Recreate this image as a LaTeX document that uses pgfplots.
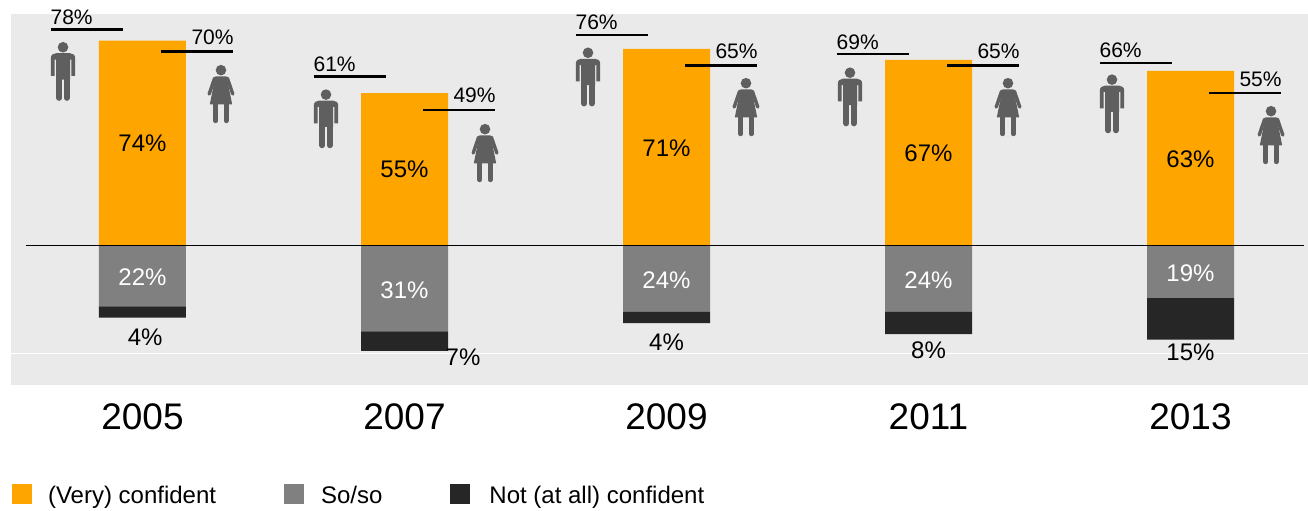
\documentclass[border=0pt]{standalone}
\usepackage{pgfplots}
\pgfplotsset{compat=1.18}
\usepackage{fontspec}
\setmainfont{Liberation Sans}
\definecolor{cOr}{HTML}{FFA500}
\definecolor{cGr}{HTML}{808080}
\definecolor{cBk}{HTML}{262626}
\definecolor{cBg}{HTML}{EAEAEA}
\definecolor{cIc}{HTML}{5F5F5F}
% 1 px of the reference = 0.5pt
\pgfdeclareplotmark{man}{%
  \pgfsetfillcolor{cIc}\pgfsetstrokecolor{cIc}%
  \pgfsetroundcap
  \pgfpathcircle{\pgfqpoint{0pt}{12.15pt}}{2.65pt}\pgfusepathqfill
  \pgfpathmoveto{\pgfqpoint{-6.1pt}{6.5pt}}%
  \pgfpathcurveto{\pgfqpoint{-6.1pt}{8.3pt}}{\pgfqpoint{-5pt}{9.15pt}}{\pgfqpoint{-3.5pt}{9.15pt}}%
  \pgfpathlineto{\pgfqpoint{3.5pt}{9.15pt}}%
  \pgfpathcurveto{\pgfqpoint{5pt}{9.15pt}}{\pgfqpoint{6.1pt}{8.3pt}}{\pgfqpoint{6.1pt}{6.5pt}}%
  \pgfpathlineto{\pgfqpoint{6.1pt}{-2.2pt}}%
  \pgfpathlineto{\pgfqpoint{4.2pt}{-2.2pt}}%
  \pgfpathlineto{\pgfqpoint{4.2pt}{6pt}}%
  \pgfpathlineto{\pgfqpoint{3.5pt}{6pt}}%
  \pgfpathlineto{\pgfqpoint{3.5pt}{-4pt}}%
  \pgfpathlineto{\pgfqpoint{-3.5pt}{-4pt}}%
  \pgfpathlineto{\pgfqpoint{-3.5pt}{6pt}}%
  \pgfpathlineto{\pgfqpoint{-4.2pt}{6pt}}%
  \pgfpathlineto{\pgfqpoint{-4.2pt}{-2.2pt}}%
  \pgfpathlineto{\pgfqpoint{-6.1pt}{-2.2pt}}%
  \pgfpathclose\pgfusepathqfill
  \pgfsetlinewidth{2.9pt}%
  \pgfpathmoveto{\pgfqpoint{-1.9pt}{-3pt}}\pgfpathlineto{\pgfqpoint{-1.9pt}{-13.2pt}}\pgfusepathqstroke
  \pgfpathmoveto{\pgfqpoint{1.9pt}{-3pt}}\pgfpathlineto{\pgfqpoint{1.9pt}{-13.2pt}}\pgfusepathqstroke
}
\pgfdeclareplotmark{woman}{%
  \pgfsetfillcolor{cIc}\pgfsetstrokecolor{cIc}%
  \pgfsetroundcap
  \pgfpathcircle{\pgfqpoint{0pt}{11.9pt}}{2.65pt}\pgfusepathqfill
  \pgfpathmoveto{\pgfqpoint{-2.8pt}{8.8pt}}%
  \pgfpathlineto{\pgfqpoint{2.8pt}{8.8pt}}%
  \pgfpathlineto{\pgfqpoint{5.6pt}{-5.2pt}}%
  \pgfpathlineto{\pgfqpoint{-5.6pt}{-5.2pt}}%
  \pgfpathclose\pgfusepathqfill
  \pgfsetlinewidth{1.7pt}%
  \pgfpathmoveto{\pgfqpoint{-3.2pt}{7.9pt}}\pgfpathlineto{\pgfqpoint{-5.9pt}{0pt}}\pgfusepathqstroke
  \pgfpathmoveto{\pgfqpoint{3.2pt}{7.9pt}}\pgfpathlineto{\pgfqpoint{5.9pt}{0pt}}\pgfusepathqstroke
  \pgfsetlinewidth{2.4pt}%
  \pgfpathmoveto{\pgfqpoint{-2.6pt}{-5pt}}\pgfpathlineto{\pgfqpoint{-2.6pt}{-13.4pt}}\pgfusepathqstroke
  \pgfpathmoveto{\pgfqpoint{2.6pt}{-5pt}}\pgfpathlineto{\pgfqpoint{2.6pt}{-13.4pt}}\pgfusepathqstroke
}
\pgfplotsset{
  lbl/.style={forget plot, only marks, mark=none, point meta=explicit symbolic,
    nodes near coords, every node near coord/.append style={anchor=center, inner sep=0pt, text=#1,
      font=\fontsize{12}{14}\selectfont}},
  lbl/.default=black,
  seg/.style={forget plot, sharp plot, black, line width=1.1pt, unbounded coords=jump},
  barstyle/.style={ybar, bar width=43.5pt, bar shift=0pt, draw=none, fill=#1},
}
\begin{document}
\begin{tikzpicture}
\path[use as bounding box] (-5.5pt,-62.5pt) rectangle (648.5pt,192.5pt);
\begin{axis}[
  scale only axis, width=648.5pt, height=185.5pt,
  xmin=-0.5019, xmax=4.4485, ymin=-50.36, ymax=83.57,
  clip=false,
  axis line style={draw=none},
  axis background/.style={fill=cBg},
  major tick length=0pt,
  xtick={0,1,2,3,4},
  xticklabels={2005,2007,2009,2011,2013},
  xticklabel style={font=\fontsize{18.5}{22}\selectfont, yshift=-6pt},
  ytick={-38.85}, yticklabels={}, ymajorgrids,
  grid style={white, line width=0.5pt},
  reverse stacked plots=false,
  legend columns=-1,
  legend style={at={(axis description cs:0.0008,-0.3004)}, anchor=west, draw=none, fill=none, inner sep=0pt, outer sep=0pt,
    font=\fontsize{12}{14}\selectfont,
    /tikz/every even column/.append style={column sep=32pt},
    /tikz/every odd column/.append style={column sep=6pt}},
  legend image code/.code={\fill[#1] (0pt,-4pt) rectangle (10pt,6pt);},
]
\addplot[barstyle=cOr] coordinates {(0,74) (1,55) (2,71) (3,67) (4,63)};
\addlegendentry{(Very) confident}
\addplot[barstyle=cGr, stack plots=y] coordinates {(0,-22) (1,-31) (2,-24) (3,-24) (4,-19)};
\addlegendentry{\hspace*{0.5pt}So/so\hspace{2pt}}
\addplot[barstyle=cBk, stack plots=y] coordinates {(0,-4) (1,-7) (2,-4) (3,-8) (4,-15)};
\addlegendentry{\hspace*{1.5pt}Not (at all) confident}
% zero line
\addplot[seg, line width=0.7pt] coordinates {(-0.4447,0) (4.4332,0)};
% men's and women's values
\addplot[seg] coordinates {(-0.3492,78) (-0.0744,78) (0,nan) (0.6546,61) (0.9294,61) (1,nan) (1.6546,76) (1.9294,76) (2,nan) (2.651,69) (2.9258,69) (3,nan) (3.6546,66) (3.9294,66)};
\addplot[seg] coordinates {(0.0706,70) (0.3454,70) (1,nan) (1.0706,49) (1.3454,49) (2,nan) (2.0706,65) (2.3454,65) (3,nan) (3.0706,65) (3.3454,65) (4,nan) (4.0706,55) (4.3454,55)};
\addplot[lbl, every node near coord/.append style={anchor=base west, xshift=-0.4pt, yshift=2.6pt, font=\fontsize{10.5}{12}\selectfont}]
  coordinates {(-0.3492,78)[78\%] (0.6546,61)[61\%] (1.6546,76)[76\%] (2.651,69)[69\%] (3.6546,66)[66\%]};
\addplot[lbl, every node near coord/.append style={anchor=base east, xshift=0.5pt, yshift=3.5pt, font=\fontsize{10.5}{12}\selectfont}]
  coordinates {(0.3454,70)[70\%] (1.3454,49)[49\%] (2.3454,65)[65\%] (3.3454,65)[65\%] (4.3454,55)[55\%]};
% icons
\addplot[forget plot, only marks, mark=man] coordinates {(-0.3034,62.8) (0.7004,45.7) (1.7004,60.8) (2.7004,53.6) (3.7004,51.1)};
\addplot[forget plot, only marks, mark=woman] coordinates {(0.2996,54.7) (1.3073,33.4) (2.3034,50) (3.3034,50) (4.3073,39.9)};
% value labels
\addplot[lbl] coordinates {(0,37)[74\%] (1,27.6)[55\%] (2,35.2)[71\%] (3,33.4)[67\%] (4,31.2)[63\%]};
\addplot[lbl=white] coordinates {(0,-11.4)[22\%] (1,-16)[31\%] (2,-12.5)[24\%] (3,-12.5)[24\%] (4,-9.9)[19\%]};
\addplot[lbl] coordinates {(0.01,-33)[4\%] (1.2233,-40.3)[7\%] (2,-34.8)[4\%] (3,-37.7)[8\%] (4,-38.4)[15\%]};
\end{axis}
\end{tikzpicture}
\end{document}
